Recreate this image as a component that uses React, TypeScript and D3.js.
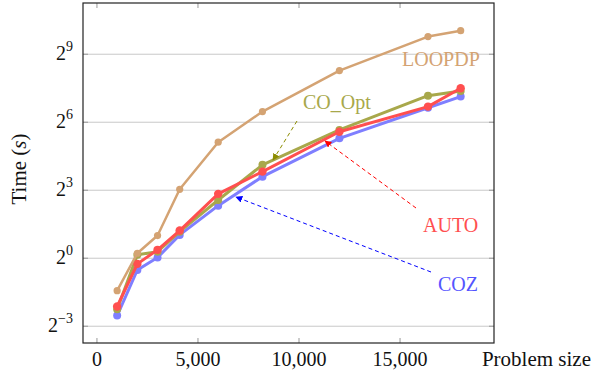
import * as d3 from 'd3';

// problem sizes (x)
const sizes = [1000, 2000, 3000, 4096, 6000, 8192, 12000, 16384, 18000];

// log2 of run time in seconds
const loopdp = [-1.43, 0.22, 1.0, 3.04, 5.12, 6.47, 8.28, 9.78, 10.04];
const coOpt = [-2.25, 0.15, 0.29, 1.17, 2.57, 4.12, 5.66, 7.17, 7.38];
const auto = [-2.13, -0.25, 0.37, 1.22, 2.84, 3.82, 5.58, 6.69, 7.5];
const coz = [-2.53, -0.52, 0.03, 1.03, 2.32, 3.6, 5.29, 6.64, 7.13];

const xTicks = [0, 5000, 10000, 15000];
const yTickExps = [-3, 0, 3, 6, 9];

const W = 592;
const H = 374;
const FONT = '"Liberation Serif", "Times New Roman", serif';

const series = [
  { name: 'LOOPDP', exps: loopdp, color: '#D4A373', width: 2.5, r: 3.6 },
  { name: 'CO_Opt', exps: coOpt, color: '#A8A84B', width: 3, r: 4 },
  { name: 'AUTO', exps: auto, color: '#FF4F4F', width: 3, r: 4.2 },
  { name: 'COZ', exps: coz, color: '#7F7FFF', width: 3, r: 4 },
];

export default function App() {
  const left = 83, right = 494, top = 3, bottom = 343;

  const x = d3.scaleLinear().domain([-690, 19650]).range([left, right]);
  const y = d3.scaleLog().base(2).domain([Math.pow(2, -3.74), Math.pow(2, 11.26)]).range([bottom, top]);

  const line = d3.line<[number, number]>()
    .x(d => x(d[0]))
    .y(d => y(Math.pow(2, d[1])));

  // COZ at the bottom, LOOPDP on top
  const drawOrder = [series[3], series[1], series[2], series[0]];

  return (
    <svg width={W} height={H} style={{ position: 'absolute', left: 0, top: 0 }} fontFamily={FONT}>
      <defs>
        <marker id="ah-olive" viewBox="0 0 10 10" refX="9" refY="5" markerWidth="7" markerHeight="7" orient="auto">
          <path d="M0,0 L10,5 L0,10 z" fill="#8C8C00" />
        </marker>
        <marker id="ah-red" viewBox="0 0 10 10" refX="9" refY="5" markerWidth="7" markerHeight="7" orient="auto">
          <path d="M0,0 L10,5 L0,10 z" fill="#FF0000" />
        </marker>
        <marker id="ah-blue" viewBox="0 0 10 10" refX="9" refY="5" markerWidth="7" markerHeight="7" orient="auto">
          <path d="M0,0 L10,5 L0,10 z" fill="#0000FF" />
        </marker>
      </defs>

      {/* grid */}
      {yTickExps.map(e => (
        <line key={'g' + e} x1={left} x2={right} y1={y(Math.pow(2, e))} y2={y(Math.pow(2, e))} stroke="#c8c8c8" strokeWidth={1} />
      ))}
      {/* ticks */}
      {yTickExps.map(e => (
        <g key={'yt' + e} stroke="#999" strokeWidth={1}>
          <line x1={left} x2={left + 5} y1={y(Math.pow(2, e))} y2={y(Math.pow(2, e))} />
          <line x1={right - 5} x2={right} y1={y(Math.pow(2, e))} y2={y(Math.pow(2, e))} />
        </g>
      ))}
      {xTicks.map(t => (
        <g key={'xt' + t} stroke="#999" strokeWidth={1}>
          <line x1={x(t)} x2={x(t)} y1={bottom} y2={bottom - 5} />
          <line x1={x(t)} x2={x(t)} y1={top} y2={top + 5} />
        </g>
      ))}

      {/* series */}
      {drawOrder.map(s => {
        const pts = sizes.map((v, i) => [v, s.exps[i]] as [number, number]);
        return (
          <g key={s.name}>
            <path d={line(pts) || ''} fill="none" stroke={s.color} strokeWidth={s.width} strokeLinejoin="round" />
            {pts.map((p, i) => (
              <circle key={i} cx={x(p[0])} cy={y(Math.pow(2, p[1]))} r={s.r} fill={s.color} />
            ))}
          </g>
        );
      })}

      {/* frame */}
      <rect x={left} y={top} width={right - left} height={bottom - top} fill="none" stroke="#222" strokeWidth={1.2} />

      {/* tick labels */}
      {yTickExps.map(e => (
        <text key={'yl' + e} x={73} y={y(Math.pow(2, e)) + 6} textAnchor="end" fontSize={20} fill="#111">
          2<tspan dy={-9} fontSize={14}>{e < 0 ? '\u2212' + Math.abs(e) : e}</tspan>
        </text>
      ))}
      {xTicks.map(t => (
        <text key={'xl' + t} x={x(t)} y={366} textAnchor="middle" fontSize={20} fill="#111">
          {d3.format(',')(t)}
        </text>
      ))}

      {/* axis titles */}
      <text x={591} y={366} textAnchor="end" fontSize={21} fill="#111">Problem size</text>
      <text transform={`translate(26,169) rotate(-90)`} textAnchor="middle" fontSize={21} fill="#111">
        Time (<tspan fontStyle="italic">s</tspan>)
      </text>

      {/* annotations */}
      <text x={402} y={66} fontSize={20} fill="#D4A373">LOOPDP</text>
      <text x={303} y={109} fontSize={20} fill="#A8A84B">CO_Opt</text>
      <line x1={297} y1={121} x2={273} y2={160} stroke="#8C8C00" strokeWidth={1} strokeDasharray="4,3" markerEnd="url(#ah-olive)" />
      <text x={423} y={232} fontSize={20} fill="#FF4F4F">AUTO</text>
      <line x1={416} y1={208} x2={325} y2={141} stroke="#FF0000" strokeWidth={1} strokeDasharray="4,3" markerEnd="url(#ah-red)" />
      <text x={438} y={291} fontSize={20} fill="#5555FF">COZ</text>
      <line x1={431} y1={272} x2={236} y2={197} stroke="#0000FF" strokeWidth={1} strokeDasharray="4,3" markerEnd="url(#ah-blue)" />
    </svg>
  );
}
